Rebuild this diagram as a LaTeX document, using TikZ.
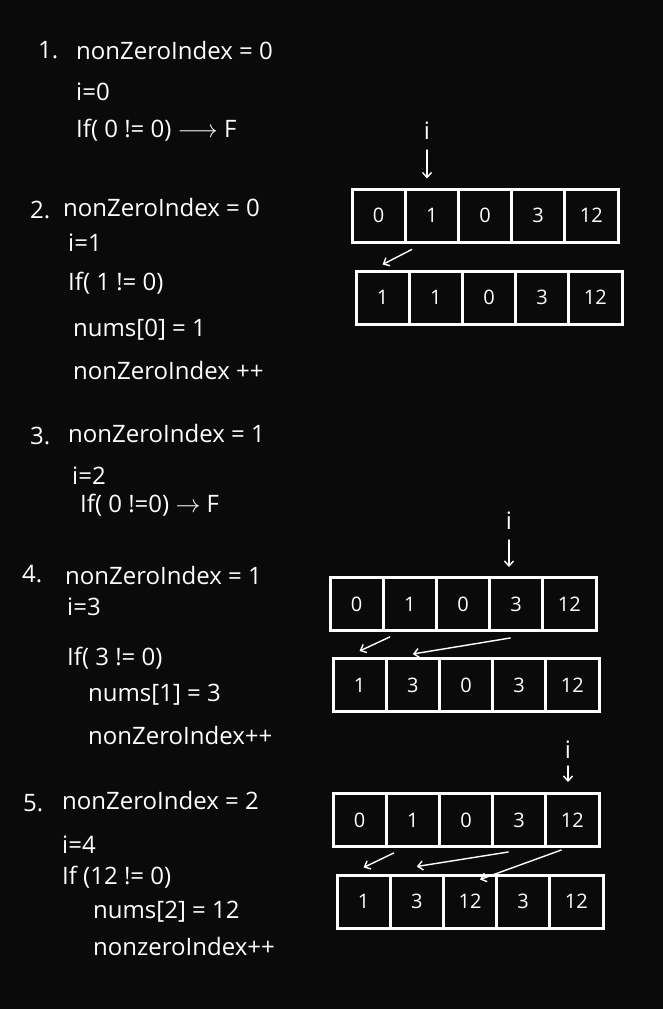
\documentclass[tikz,border=0pt]{standalone}
\usepackage{fontspec}
\setmainfont{Open Sans}
\usepackage{tikz}
\usetikzlibrary{arrows.meta, positioning, calc}
\definecolor{board}{HTML}{0A0A0A}

\begin{document}
\begin{tikzpicture}[x=1pt, y=-1pt,
  code/.style={anchor=west, text=white, inner sep=0pt, font=\fontsize{24}{28}\selectfont},
  cell/.style={rectangle, draw=white, line width=3pt, minimum width=53.2pt,
    minimum height=53pt, inner sep=0pt, text=white, font=\fontsize{20}{24}\selectfont},
  idx/.style={text=white, inner sep=1pt, font=\fontsize{24}{28}\selectfont},
  arr/.style={-{Straight Barb[length=5pt,width=9pt]}, white, line width=1.4pt, line cap=round},
]
\fill[board] (0,0) rectangle (663,1009);

% step 1
\node[code] (s1) at (38,50) {1.};
\node[code] (s1a) at (76,50) {nonZeroIndex = 0};
\node[code] (s1b) at (76,92) {i=0};
\node[code] (s1c) at (76,130) {If( 0 != 0) $\longrightarrow$ F};

% step 2
\node[code] (s2) at (30,210) {2.};
\node[code] (s2a) at (63,207) {nonZeroIndex = 0};
\node[code] (s2b) at (68,243) {i=1};
\node[code] (s2c) at (68,283) {If( 1 != 0)};
\node[code] (s2d) at (73,330) {nums[0] = 1};
\node[code] (s2e) at (73,370) {nonZeroIndex ++};

\foreach \v [count=\k] in {0,1,0,3,12}
  \node[cell] (a\k) at ({352+53.2*\k-26.6},215.5) {\v};
\foreach \v [count=\k] in {1,1,0,3,12}
  \node[cell] (b\k) at ({356+53.2*\k-26.6},297.5) {\v};
\node[idx] (i2) at (427,131) {i};
\draw[arr, shorten <=9pt, shorten >=9pt] (i2) -- (i2 |- a2.north);
\draw[arr] ([shift={(8,6)}]a2.south west) -- ([yshift=5pt]b1.north);

% step 3
\node[code] (s3) at (30,436) {3.};
\node[code] (s3a) at (68,433) {nonZeroIndex = 1};
\node[code] (s3b) at (72,476) {i=2};
\node[code] (s3c) at (80,505) {If( 0 !=0) $\rightarrow$ F};

% step 4
\node[code] (s4) at (22,574) {4.};
\node[code] (s4a) at (65,575) {nonZeroIndex = 1};
\node[code] (s4b) at (67,607) {i=3};
\node[code] (s4c) at (67,658) {If( 3 != 0)};
\node[code] (s4d) at (88,695) {nums[1] = 3};
\node[code] (s4e) at (88,735) {nonZeroIndex++};

\foreach \v [count=\k] in {0,1,0,3,12}
  \node[cell] (c\k) at ({330+53.2*\k-26.6},604) {\v};
\foreach \v [count=\k] in {1,3,0,3,12}
  \node[cell] (d\k) at ({333+53.2*\k-26.6},685) {\v};
\node[idx] (i4) at (509,521) {i};
\draw[arr, shorten <=9pt, shorten >=9pt] (i4) -- (i4 |- c4.north);
\draw[arr] ([shift={(8,5)}]c2.south west) -- ([yshift=6pt]d1.north);
\draw[arr] ([shift={(-6,6)}]c4.south) -- ([yshift=3pt]d2.north);

% step 5
\node[code] (s5) at (23,803) {5.};
\node[code] (s5a) at (62,800) {nonZeroIndex = 2};
\node[code] (s5b) at (62,845) {i=4};
\node[code] (s5c) at (62,877) {If (12 != 0)};
\node[code] (s5d) at (93,912) {nums[2] = 12};
\node[code] (s5e) at (93,946) {nonzeroIndex++};

\foreach \v [count=\k] in {0,1,0,3,12}
  \node[cell] (e\k) at ({333+53.2*\k-26.6},820) {\v};
\foreach \v [count=\k] in {1,3,12,3,12}
  \node[cell] (f\k) at ({337+53.2*\k-26.6},901.5) {\v};
\node[idx] (i5) at (568,750) {i};
\draw[arr, shorten <=6pt, shorten >=10pt] (i5) -- (i5 |- e5.north);
\draw[arr] ([shift={(9,5)}]e2.south west) -- ([yshift=6pt]f1.north);
\draw[arr] ([shift={(-11,4)}]e4.south) -- ([yshift=7pt]f2.north);
\draw[arr] ([shift={(17,2)}]e5.south west) -- ([shift={(10,6)}]f3.north);
\end{tikzpicture}
\end{document}
